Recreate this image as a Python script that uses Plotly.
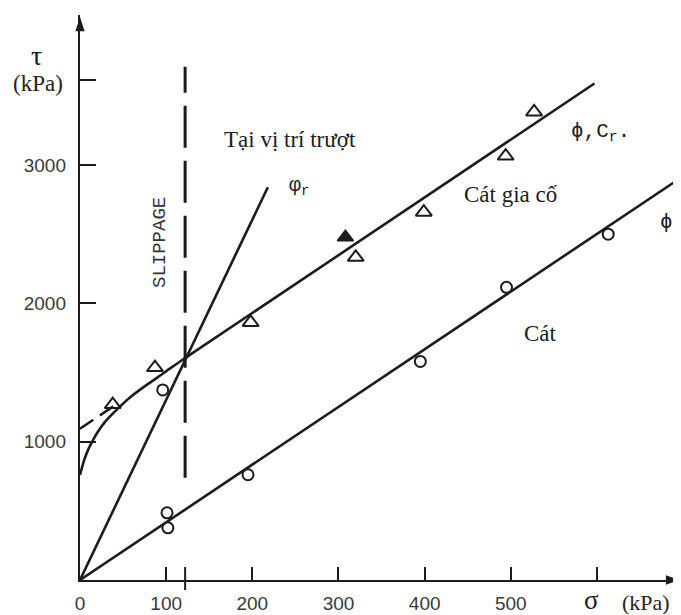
import plotly.graph_objects as go

# ---- data (sigma, tau in kPa) ----
sand_sigma = [101, 102, 195, 395, 495, 613]
sand_tau = [486, 377, 761, 1580, 2116, 2500]

reinf_sigma = [38, 87, 198, 320, 399, 494, 527]
reinf_tau = [1268, 1536, 1862, 2333, 2659, 3065, 3384]

reinf_filled_sigma = [308]
reinf_filled_tau = [2478]

slip_pt_sigma = [96]
slip_pt_tau = [1374]

sand_line_sigma = [0, 697]
sand_line_tau = [0, 2907]

reinf_line_sigma = [0, 5, 10, 15, 20, 30, 40, 50, 60, 75, 90, 105, 121, 597]
reinf_line_tau = [760, 870, 950, 1010, 1065, 1150, 1215, 1275, 1330, 1400, 1465, 1532, 1600, 3590]

reinf_ext_sigma = [0, 40]
reinf_ext_tau = [1094, 1261]

resid_sigma = [0, 218]
resid_tau = [0, 2840]

slip_sigma = [122, 122]
slip_tau = [740, 3710]

x_ticks = [0, 100, 200, 300, 400, 500]
x_tick_labels = ["0", "100", "200", "300", "400", "500"]
x_extra_ticks = [122, 600]
y_ticks = [1000, 2000, 3000]
y_tick_labels = ["1000", "2000", "3000"]
y_extra_ticks = [3615]

X_MAX = 697.5
Y_MAX = 4085

OFF = 8  # page body margin
W, H = 681 - OFF, 615 - OFF
ML, MR, MT, MB = 80 - OFF, 0, 15 - OFF, 35
PW = W - ML - MR
PH = H - MT - MB

def px(xp):
    return (xp - OFF - ML) / PW

def py(yp):
    return (H - MB - (yp - OFF)) / PH

INK = "#1c1c1c"
SERIF = "Liberation Serif"
SANS = "Liberation Sans"
MONO = "Liberation Mono"

fig = go.Figure()

line_style = dict(color=INK, width=2.6)

fig.add_trace(go.Scatter(x=sand_line_sigma, y=sand_line_tau, mode="lines",
                         line=line_style, hoverinfo="skip"))
fig.add_trace(go.Scatter(x=reinf_line_sigma, y=reinf_line_tau, mode="lines",
                         line=dict(color=INK, width=2.6, shape="spline", smoothing=0.6),
                         hoverinfo="skip"))
fig.add_trace(go.Scatter(x=reinf_ext_sigma, y=reinf_ext_tau, mode="lines",
                         line=dict(color=INK, width=2.6, dash="16px,8px"), hoverinfo="skip"))
fig.add_trace(go.Scatter(x=resid_sigma, y=resid_tau, mode="lines",
                         line=line_style, hoverinfo="skip"))
fig.add_trace(go.Scatter(x=slip_sigma, y=slip_tau, mode="lines",
                         line=dict(color=INK, width=3, dash="42px,13px"), hoverinfo="skip"))

fig.add_trace(go.Scatter(x=sand_sigma, y=sand_tau, mode="markers",
                         marker=dict(symbol="circle-open", size=11, color=INK,
                                     line=dict(width=2, color=INK))))
fig.add_trace(go.Scatter(x=slip_pt_sigma, y=slip_pt_tau, mode="markers",
                         marker=dict(symbol="circle-open", size=11, color=INK,
                                     line=dict(width=2, color=INK))))
fig.add_trace(go.Scatter(x=reinf_sigma, y=reinf_tau, mode="markers",
                         marker=dict(symbol="triangle-up-open", size=14, color=INK,
                                     line=dict(width=2, color=INK))))
fig.add_trace(go.Scatter(x=reinf_filled_sigma, y=reinf_filled_tau, mode="markers",
                         marker=dict(symbol="triangle-up", size=14, color=INK,
                                     line=dict(width=1.5, color=INK))))

# axis arrowheads (tip at the axis end)
fig.add_trace(go.Scatter(x=[0], y=[Y_MAX - 15], mode="markers", cliponaxis=False,
                         marker=dict(symbol="arrow", angle=0, size=15, color=INK,
                                     line=dict(width=0)), hoverinfo="skip"))
fig.add_trace(go.Scatter(x=[X_MAX - 1], y=[0], mode="markers", cliponaxis=False,
                         marker=dict(symbol="arrow", angle=90, size=15, color=INK,
                                     line=dict(width=0)), hoverinfo="skip"))

shapes = []
for t in x_extra_ticks:
    shapes.append(dict(type="line", xref="x", yref="paper", x0=t, x1=t,
                       y0=py(590) if t == 122 else 0, y1=py(567),
                       line=dict(color=INK, width=2)))
for t in y_extra_ticks:
    shapes.append(dict(type="line", xref="paper", yref="y", x0=0, x1=px(96), y0=t, y1=t,
                       line=dict(color=INK, width=2)))

ann = []

def label(text, xp, yp, size, family=SERIF, xanchor="center", angle=0, color=INK):
    ann.append(dict(text=text, x=px(xp), y=py(yp), xref="paper", yref="paper",
                    showarrow=False, xanchor=xanchor, yanchor="middle", textangle=angle,
                    font=dict(family=family, size=size, color=color)))

label("τ", 36, 55, 28)
label("(kPa)", 38, 83, 23, color="#2a2118")
label("Tại vị trí trượt", 290, 139, 23)
label("φ<sub>r</sub>", 287, 186, 20, family=MONO, xanchor="left")
label("Cát gia cố", 511, 194, 23)
label("Cát", 540, 333, 23)
label("ϕ,C<sub>r</sub>.", 569, 133, 21, family=MONO, xanchor="left")
label("ϕ", 666, 222, 21, family=MONO)
label("SLIPPAGE", 160, 243, 19, family=MONO, angle=-90, color="#333333")
label("σ", 591, 600, 27)
label("(kPa)", 646, 602, 22, color="#2a2118")

fig.update_layout(
    width=W, height=H,
    margin=dict(l=ML, r=MR, t=MT, b=MB),
    paper_bgcolor="white", plot_bgcolor="white",
    showlegend=False,
    annotations=ann,
    shapes=shapes,
    xaxis=dict(range=[0, X_MAX], showgrid=False, zeroline=False,
               showline=True, linecolor=INK, linewidth=2.4,
               tickmode="array", tickvals=x_ticks, ticktext=x_tick_labels,
               ticks="inside", ticklen=13, tickwidth=2, tickcolor=INK,
               ticklabelstandoff=5,
               tickfont=dict(family=SANS, size=19, color="#3a3a3a")),
    yaxis=dict(range=[0, Y_MAX], showgrid=False, zeroline=False,
               showline=True, linecolor=INK, linewidth=2.4,
               tickmode="array", tickvals=y_ticks, ticktext=y_tick_labels,
               ticks="inside", ticklen=16, tickwidth=2, tickcolor=INK,
               ticklabelstandoff=8,
               tickfont=dict(family=SANS, size=19, color="#3a3a3a")),
)

fig.write_html("out.html")
